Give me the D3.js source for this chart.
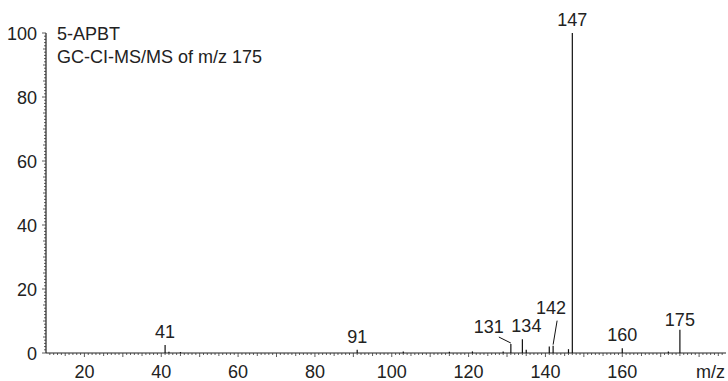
<!DOCTYPE html>
<html>
<head>
<meta charset="utf-8">
<script src="https://cdn.jsdelivr.net/npm/d3@7"></script>
<style>
  body { margin: 0; background: #fff; }
  text { font-family: "Liberation Sans", Arial, sans-serif; fill: #222; }
</style>
</head>
<body>
<svg width="728" height="381"></svg>
<script>
// spectrum peaks: m/z and relative intensity (%)
const mz = [41, 42, 45, 91, 103, 115, 121, 129, 131, 134, 135, 141, 142, 146, 147, 160, 172, 175];
const intensity = [2.5, 0.4, 0.3, 1.0, 0.5, 0.4, 0.5, 0.5, 2.8, 4.3, 1.0, 2.0, 2.3, 1.2, 100, 1.5, 0.5, 7.3];

// peak labels: which m/z gets a number, and nudges for the crowded ones
const labelled = [41, 91, 131, 134, 142, 147, 160, 175];
const labelOffsets = { 131: [-22, -4], 134: [4, 0], 142: [-2, -25], 175: [0, 3] };
const leaders = [131, 142];

const xTicks = [20, 40, 60, 80, 100, 120, 140, 160];
const yTicks = [0, 20, 40, 60, 80, 100];

const svg = d3.select("svg");

const x = d3.scaleLinear().domain([10, 187]).range([46, 726]);
const y = d3.scaleLinear().domain([0, 100]).range([353, 33]);

const g = svg.append("g");

// x axis line + minor ticks
g.append("line")
  .attr("x1", x(10)).attr("x2", x(187))
  .attr("y1", y(0)).attr("y2", y(0))
  .attr("stroke", "#222").attr("stroke-width", 1.2);

const xMinor = d3.range(11, 187, 1);
g.selectAll(".xm").data(xMinor).enter().append("line")
  .attr("x1", d => x(d)).attr("x2", d => x(d))
  .attr("y1", y(0))
  .attr("y2", d => y(0) + (d % 10 === 0 ? 4 : d % 5 === 0 ? 3 : 2))
  .attr("stroke", "#333").attr("stroke-width", 0.8);

g.selectAll(".xl").data(xTicks).enter().append("text")
  .attr("x", d => x(d)).attr("y", 378)
  .attr("text-anchor", "middle").attr("font-size", 18)
  .text(d => d);

g.append("text").attr("x", 725).attr("y", 378)
  .attr("text-anchor", "end").attr("font-size", 18).text("m/z");

// y axis line + minor ticks
g.append("line")
  .attr("x1", x(10)).attr("x2", x(10))
  .attr("y1", y(0)).attr("y2", y(100))
  .attr("stroke", "#222").attr("stroke-width", 1.2);

const yMinor = d3.range(0, 101, 1);
g.selectAll(".ym").data(yMinor).enter().append("line")
  .attr("x1", x(10))
  .attr("x2", d => x(10) - (d % 20 === 0 ? 4 : d % 5 === 0 ? 3 : 2))
  .attr("y1", d => y(d)).attr("y2", d => y(d))
  .attr("stroke", "#333").attr("stroke-width", 0.8);

g.selectAll(".yl").data(yTicks).enter().append("text")
  .attr("x", 37).attr("y", d => y(d) + 6.5)
  .attr("text-anchor", "end").attr("font-size", 18)
  .text(d => d);

// peaks
const peaks = mz.map((m, i) => ({ m, v: intensity[i] }));
g.selectAll(".pk").data(peaks).enter().append("line")
  .attr("x1", d => x(d.m)).attr("x2", d => x(d.m))
  .attr("y1", y(0)).attr("y2", d => y(d.v))
  .attr("stroke", "#111").attr("stroke-width", 1.2);

// labels
const lab = peaks.filter(d => labelled.includes(d.m));
lab.forEach(d => {
  const off = labelOffsets[d.m] || [0, 0];
  const lx = x(d.m) + off[0];
  const ly = y(d.v) - 7 + off[1];
  g.append("text")
    .attr("x", lx).attr("y", ly)
    .attr("text-anchor", "middle").attr("font-size", 18)
    .text(d.m);
  if (leaders.includes(d.m)) {
    // leader line from label to peak top
    g.append("line")
      .attr("x1", d.m === 131 ? lx + 10 : lx + 6).attr("y1", ly + (d.m === 131 ? 4 : 7))
      .attr("x2", x(d.m)).attr("y2", y(d.v) - 1)
      .attr("stroke", "#111").attr("stroke-width", 1);
  }
});

// title
g.append("text").attr("x", 57).attr("y", 40).attr("font-size", 18).text("5-APBT");
g.append("text").attr("x", 57).attr("y", 63).attr("font-size", 18).text("GC-CI-MS/MS of m/z 175");
</script>
</body>
</html>
